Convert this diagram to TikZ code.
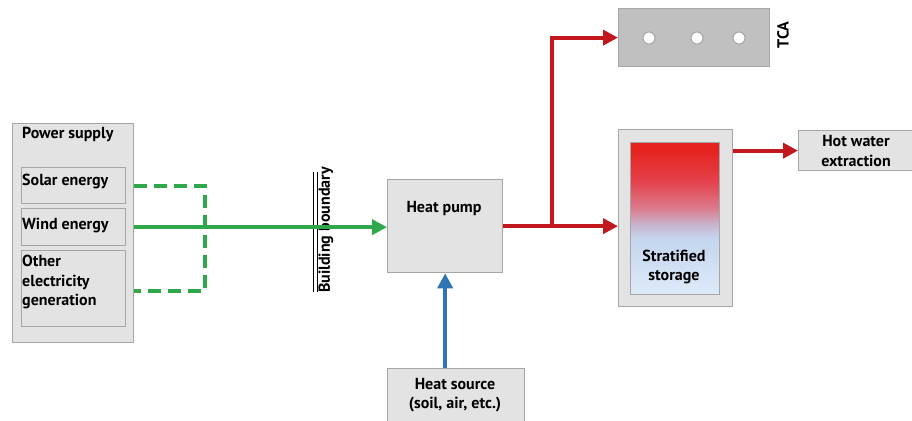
\documentclass[tikz,border=0pt]{standalone}
\usepackage{fontspec}
\setmainfont{PT Sans}
\usetikzlibrary{arrows.meta}
\definecolor{boxfill}{HTML}{E3E3E3}
\definecolor{boxline}{HTML}{A6A6A6}
\definecolor{tcafill}{HTML}{C0C0C0}
\definecolor{grn}{HTML}{2EA84A}
\definecolor{redl}{HTML}{C0181D}
\definecolor{blu}{HTML}{2F74B5}
\definecolor{sred}{HTML}{E52420}
\definecolor{sredb}{HTML}{E4404A}
\definecolor{spink}{HTML}{DC7A8C}
\definecolor{slav}{HTML}{C8B4CE}
\definecolor{sblue}{HTML}{C4D6EE}
\definecolor{sblueb}{HTML}{DDEAF8}
\pgfdeclareverticalshading{strat}{100bp}{color(0bp)=(sblueb); color(25bp)=(sblueb); color(43.5bp)=(sblue); color(48bp)=(slav); color(53.5bp)=(spink); color(62.5bp)=(sredb); color(72.5bp)=(sred); color(100bp)=(sred)}
\begin{document}
\begin{tikzpicture}[x=1pt,y=-1pt,
  font=\bfseries\fontsize{16}{19.5}\selectfont,
  box/.style={draw=boxline, fill=boxfill, line width=1.3pt, inner sep=0pt, anchor=north west},
  lbl/.style={inner sep=0pt, align=left},
  clbl/.style={inner sep=0pt, align=center},
  garr/.style={draw=grn, line width=4pt, -{Triangle[length=15pt,width=15pt]}},
  gdash/.style={draw=grn, line width=4pt, dash pattern=on 13pt off 7pt},
  rarr/.style={draw=redl, line width=4pt, -{Triangle[length=15pt,width=15pt]}},
  barr/.style={draw=blu, line width=4pt, -{Triangle[length=15pt,width=15pt]}},
  dot/.style={circle, draw=boxline, fill=white, line width=1pt, minimum size=12pt, inner sep=0pt}
]
\useasboundingbox (0,0) rectangle (912,420);
\clip (0,0) rectangle (912,420);

% power supply
\node[box, minimum width=121pt, minimum height=219pt] (ps) at (12,123) {};
\node[lbl, anchor=west] (pslbl) at (22,134) {Power supply};
\node[box, minimum width=104pt, minimum height=36pt] (solar) at (21,167) {};
\node[box, minimum width=104pt, minimum height=37pt] (wind) at (21,208) {};
\node[box, minimum width=104pt, minimum height=76pt] (other) at (21,250) {};
\node[lbl, anchor=west] (solarlbl) at (22,181) {Solar energy};
\node[lbl, anchor=west] (windlbl) at (22,226) {Wind energy};
\node[lbl, anchor=west] (otherlbl) at (22,282) {Other\\electricity\\generation};

% heat pump
\node[box, minimum width=115pt, minimum height=93pt] (hp) at (387,179) {};
\node[clbl] (hplbl) at (444,208) {Heat pump};

% heat source
\node[box, minimum width=137pt, minimum height=70pt] (hs) at (387,368) {};
\node[clbl] (hslbl) at (455,395) {Heat source\\(soil, air, etc.)};

% TCA
\node[box, fill=tcafill, minimum width=151pt, minimum height=58pt] (tca) at (618,8) {};
\node[dot] (c1) at (649,38) {};
\node[dot] (c2) at (697,38) {};
\node[dot] (c3) at (739,38) {};
\node[clbl, rotate=90] (tcalbl) at (783,35) {TCA};

% stratified storage
\node[box, minimum width=114pt, minimum height=177pt] (st) at (618,129) {};
\node[draw=boxline, line width=1.3pt, shading=strat, inner sep=0pt, anchor=north west, minimum width=89pt, minimum height=152pt] (sti) at (630,142) {};
\node[clbl] (stlbl) at (674,267) {Stratified\\storage};

% hot water
\node[box, minimum width=118pt, minimum height=40pt] (hw) at (798,130) {};
\node[clbl] (hwlbl) at (856,151) {Hot water\\extraction};

% building boundary
\coordinate (bb1) at (313,172);
\coordinate (bb2) at (313,292);
\coordinate (bb3) at (317,172);
\coordinate (bb4) at (317,292);
\draw[line width=1pt] (bb1) -- (bb2);
\draw[line width=1pt] (bb3) -- (bb4);
\node[clbl, rotate=90] (bblbl) at (326,230) {Building boundary};

% green connectors
\coordinate (dtop) at (205,186);
\coordinate (dbot) at (205,291);
\draw[gdash] (ps.east |- dtop) -- (dtop) -- (dbot) -- (ps.east |- dbot);
\draw[garr] (ps.east |- wind.east) -- (wind.east -| hp.west);

% red connectors
\coordinate (br) at (552,226);
\draw[rarr] (hp.east) -- (hp.east -| st.west);
\draw[rarr] (br) |- (tca.west);
\draw[rarr] (st.east |- hw.west) -- (hw.west);

% blue connector
\draw[barr] (hs.north -| hp.south) -- (hp.south);
\end{tikzpicture}
\end{document}
